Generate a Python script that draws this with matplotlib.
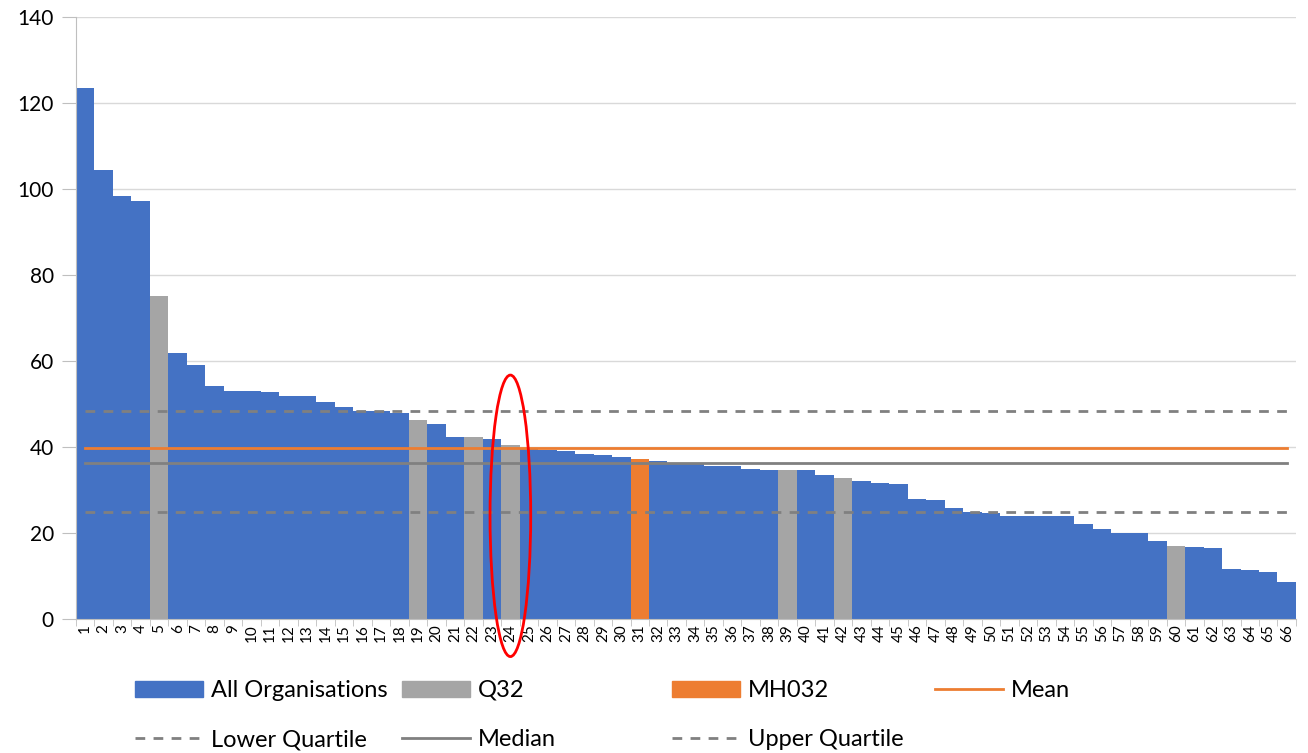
import matplotlib.pyplot as plt
from matplotlib.patches import Patch, Ellipse
from matplotlib.lines import Line2D

plt.rcParams['font.family'] = ['Lato', 'DejaVu Sans']

# scores per organisation, sorted high to low
values = [123.5, 104.4, 98.4, 97.2, 75.1, 61.9, 59.1, 54.3, 53.0, 53.0,
          52.7, 51.8, 51.8, 50.4, 49.4, 48.5, 48.5, 48.0, 46.2, 45.3,
          42.3, 42.3, 41.8, 40.5, 39.5, 39.4, 39.1, 38.5, 38.1, 37.6,
          37.3, 36.7, 36.4, 36.4, 35.6, 35.6, 35.0, 34.6, 34.6, 34.6,
          33.6, 32.8, 32.2, 31.6, 31.3, 28.0, 27.7, 25.9, 25.0, 24.7,
          23.9, 23.9, 23.9, 23.9, 22.0, 20.9, 19.9, 19.9, 18.2, 17.0,
          16.7, 16.4, 11.6, 11.3, 11.0, 8.7]
positions = list(range(1, len(values) + 1))
q32_bars = [5, 19, 22, 24, 39, 42, 60]
mh032_bars = [31]
highlight = 24

mean_val = 39.8
median_val = 36.2
lower_q = 24.8
upper_q = 48.4

blue = '#4472C4'
grey = '#A5A5A5'
orange = '#ED7D31'
line_grey = '#808080'

colors = []
for p in positions:
    if p in mh032_bars:
        colors.append(orange)
    elif p in q32_bars:
        colors.append(grey)
    else:
        colors.append(blue)

fig = plt.figure(figsize=(13.08, 7.53), dpi=100)
ax = fig.add_axes([0.0581, 0.178, 0.9327, 0.799])

ax.bar(positions, values, width=1.0, color=colors, zorder=2)

x0, x1 = positions[0], positions[-1]
dashes = (0, (3.5, 3))
ax.plot([x0, x1], [mean_val, mean_val], color=orange, lw=2, zorder=3)
ax.plot([x0, x1], [median_val, median_val], color=line_grey, lw=2, zorder=3)
ax.plot([x0, x1], [lower_q, lower_q], color=line_grey, lw=2, ls=dashes, zorder=3)
ax.plot([x0, x1], [upper_q, upper_q], color=line_grey, lw=2, ls=dashes, zorder=3)

ax.add_patch(Ellipse((highlight, 24.0), width=2.2, height=65.5, fill=False,
                     edgecolor='red', lw=2, clip_on=False, zorder=5))

ax.set_xlim(0.5, len(values) + 0.5)
ax.set_ylim(0, 140)
ax.set_yticks(range(0, 141, 20))
ax.set_xticks(positions)
ax.set_xticklabels([str(p) for p in positions], rotation=90, fontsize=11)
ax.set_xticks([p + 0.5 for p in [0] + positions], minor=True)
ax.tick_params(axis='x', which='major', length=0, pad=4)
ax.tick_params(axis='x', which='minor', length=5, color='#BFBFBF')
ax.tick_params(axis='y', length=10, color='#BFBFBF', labelsize=15, pad=6)

ax.grid(axis='y', color='#D9D9D9', lw=1, zorder=0)
ax.set_axisbelow(True)
for s in ['top', 'right']:
    ax.spines[s].set_visible(False)
ax.spines['left'].set_color('#BFBFBF')
ax.spines['bottom'].set_color('#BFBFBF')

# legend laid out as four columns
dash = Line2D([], [], color=line_grey, lw=2, ls=dashes)
columns = [
    (135, [Patch(color=blue), dash], ['All Organisations', 'Lower Quartile']),
    (402, [Patch(color=grey), Line2D([], [], color=line_grey, lw=2)], ['Q32', 'Median']),
    (672, [Patch(color=orange), dash], ['MH032', 'Upper Quartile']),
    (935, [Line2D([], [], color=orange, lw=2)], ['Mean']),
]
for x, handles, labels in columns:
    fig.legend(handles, labels, loc='upper left',
               bbox_to_anchor=(x / 1308, 1 - 680 / 753),
               frameon=False, fontsize=17, handlelength=2.88,
               handleheight=0.64, handletextpad=0.34, labelspacing=1.19,
               borderpad=0, borderaxespad=0)

fig.savefig('out.png', dpi=100)
